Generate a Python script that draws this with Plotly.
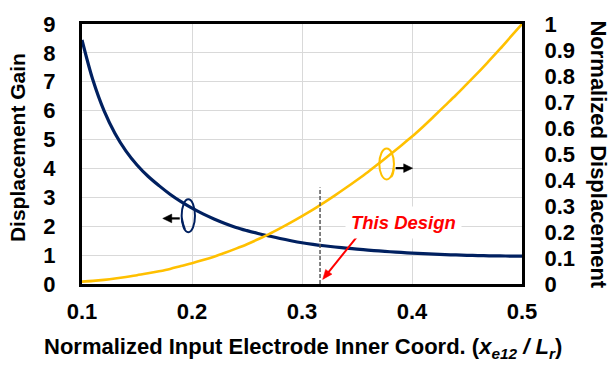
import math
import plotly.graph_objects as go

# Normalized input electrode inner coordinate (x_e12 / L_r)
coord = [0.10, 0.11, 0.12, 0.13, 0.14, 0.15, 0.16, 0.17, 0.18, 0.19,
         0.20, 0.21, 0.22, 0.23, 0.24, 0.25, 0.26, 0.27, 0.28, 0.29,
         0.30, 0.31, 0.32, 0.33, 0.34, 0.35, 0.36, 0.37, 0.38, 0.39,
         0.40, 0.41, 0.42, 0.43, 0.44, 0.45, 0.46, 0.47, 0.48, 0.49, 0.50]

# Displacement gain (left axis)
gain = [8.45, 7.05, 6.00, 5.21, 4.60, 4.12, 3.73, 3.405, 3.107, 2.849,
        2.623, 2.426, 2.252, 2.097, 1.959, 1.848, 1.749, 1.661, 1.576, 1.499,
        1.429, 1.372, 1.324, 1.281, 1.242, 1.207, 1.174, 1.144, 1.117, 1.092,
        1.070, 1.050, 1.033, 1.018, 1.005, 0.994, 0.985, 0.977, 0.971, 0.967, 0.963]

# Normalized displacement (right axis)
norm_disp = [0.009, 0.012, 0.016, 0.021, 0.027, 0.034, 0.041, 0.049, 0.058, 0.069,
             0.080, 0.092, 0.105, 0.120, 0.136, 0.153, 0.172, 0.192, 0.214, 0.237,
             0.261, 0.286, 0.313, 0.341, 0.370, 0.400, 0.431, 0.464, 0.498, 0.532,
             0.567, 0.605, 0.645, 0.686, 0.727, 0.770, 0.813, 0.858, 0.904, 0.952, 1.000]

x_ticks = [0.1, 0.2, 0.3, 0.4, 0.5]
gain_ticks = list(range(0, 10))
disp_ticks = [round(0.1 * i, 1) for i in range(11)]

design_x = 0.3164

NAVY = "#002060"
GOLD = "#FFC000"
FONT = "Arial, 'Liberation Sans', sans-serif"
FS = 22

# Plot-area geometry, used to size decorations in screen pixels
W, H = 611, 365
ML, MR, MT, MB = 82, 89, 13, 81
X_RANGE, Y_RANGE = (0.1, 0.5), (0.0, 9.0)
X_PER_PX = (X_RANGE[1] - X_RANGE[0]) / (W - ML - MR)
Y_PER_PX = (Y_RANGE[1] - Y_RANGE[0]) / (H - MT - MB)

fig = go.Figure()
fig.add_trace(go.Scatter(x=coord, y=gain, mode="lines", line=dict(color=NAVY, width=3.2, shape="spline"),
                         yaxis="y", showlegend=False, hoverinfo="skip"))
fig.add_trace(go.Scatter(x=coord, y=norm_disp, mode="lines", line=dict(color=GOLD, width=2.6, shape="spline"),
                         yaxis="y2", showlegend=False, hoverinfo="skip"))

axis_font = dict(family=FONT, size=FS, color="black", weight="bold")

fig.update_layout(
    width=W, height=H,
    margin=dict(l=ML, r=MR, t=MT, b=MB),
    paper_bgcolor="white", plot_bgcolor="white",
    font=dict(family=FONT, size=FS, color="black"),
    xaxis=dict(range=list(X_RANGE), tickvals=x_ticks, ticktext=[f"{v:.1f}" for v in x_ticks],
               showgrid=True, gridcolor="#d9d9d9", gridwidth=1.2,
               showline=True, linecolor="black", linewidth=3, mirror=True,
               ticks="outside", ticklen=6, tickcolor="rgba(0,0,0,0)",
               tickfont=axis_font, zeroline=False),
    yaxis=dict(range=list(Y_RANGE), tickvals=gain_ticks,
               showgrid=True, gridcolor="#d9d9d9", gridwidth=1.2,
               showline=True, linecolor="black", linewidth=3, mirror=True,
               ticks="outside", ticklen=19, tickcolor="rgba(0,0,0,0)",
               tickfont=axis_font, zeroline=False),
    yaxis2=dict(range=[0, 1], tickvals=disp_ticks, ticktext=[f"{v:g}" for v in disp_ticks],
                overlaying="y", side="right", showgrid=False, showline=False,
                ticks="outside", ticklen=17, tickcolor="rgba(0,0,0,0)",
                tickfont=axis_font, zeroline=False),
)

# Axis titles
fig.add_annotation(text="<b>Displacement Gain</b>", xref="paper", yref="paper",
                   x=-0.148, y=0.526, textangle=-90, showarrow=False,
                   font=dict(size=21), xanchor="center", yanchor="middle")
fig.add_annotation(text="<b>Normalized Displacement</b>", xref="paper", yref="paper",
                   x=1.174, y=0.500, textangle=90, showarrow=False,
                   font=dict(size=FS), xanchor="center", yanchor="middle")
fig.add_annotation(text="<b>Normalized Input Electrode Inner Coord. (<i>x</i><sub><i>e12</i></sub><i> / L</i><sub><i>r</i></sub>)</b>",
                   xref="paper", yref="paper", x=0.503, y=-0.245, showarrow=False,
                   font=dict(size=FS), xanchor="center", yanchor="middle")


def arrow(x_tip, y_tip, dx_px, dy_px, color, width, head_len, head_w):
    """Straight arrow whose tip sits at (x_tip, y_tip); the tail lies dx_px/dy_px
    screen pixels away (dy_px positive = downward)."""
    length = math.hypot(dx_px, dy_px)
    ux, uy = dx_px / length, dy_px / length          # unit vector tip -> tail (pixels)
    bx, by = ux * head_len, uy * head_len            # head base centre (pixels from tip)
    px, py = -uy * head_w / 2, ux * head_w / 2       # half-width perpendicular

    def to_data(ox, oy):
        return x_tip + ox * X_PER_PX, y_tip - oy * Y_PER_PX

    tx, ty = to_data(dx_px, dy_px)
    sx, sy = to_data(bx * 0.8, by * 0.8)
    fig.add_shape(type="line", xref="x", yref="y", x0=tx, y0=ty, x1=sx, y1=sy,
                  line=dict(color=color, width=width))
    a = to_data(0, 0)
    b = to_data(bx + px, by + py)
    c = to_data(bx - px, by - py)
    fig.add_shape(type="path", xref="x", yref="y",
                  path=f"M {a[0]},{a[1]} L {b[0]},{b[1]} L {c[0]},{c[1]} Z",
                  fillcolor=color, line=dict(color=color, width=0.5))


# Design marker: dashed vertical line
fig.add_shape(type="line", xref="x", yref="y", x0=design_x, x1=design_x, y0=0, y1=3.34,
              line=dict(color="#595959", width=1.5, dash="4px,2px"))

# "This Design" label and red arrow
fig.add_annotation(text="<b><i>This Design</i></b>", xref="x", yref="y", x=0.3925, y=2.13,
                   showarrow=False, font=dict(size=18.5, color="#FF0000"),
                   bgcolor="white", borderpad=5, xanchor="center", yanchor="middle")
arrow(0.3188, 0.16, 34, -44, "#FF0000", 2, 10, 8)

# Axis-pointer loops for each curve
fig.add_shape(type="circle", xref="x", yref="y", x0=0.1906, x1=0.2027, y0=1.79, y1=2.93,
              line=dict(color=NAVY, width=2))
fig.add_shape(type="path", xref="x", yref="y",
              path="M 0.1908,2.27 Q 0.1918,2.05 0.1935,1.90",
              line=dict(color=NAVY, width=2))
arrow(0.1734, 2.27, 17, 0, "black", 2.2, 9, 9)

fig.add_shape(type="circle", xref="x", yref="y", x0=0.3703, x1=0.3836, y0=3.62, y1=4.69,
              line=dict(color=GOLD, width=2))
fig.add_shape(type="path", xref="x", yref="y",
              path="M 0.3834,4.01 Q 0.3832,3.80 0.3810,3.70",
              line=dict(color=GOLD, width=2))
arrow(0.4006, 4.01, -17, 0, "black", 2.2, 9, 9)

fig.write_html("out.html")
